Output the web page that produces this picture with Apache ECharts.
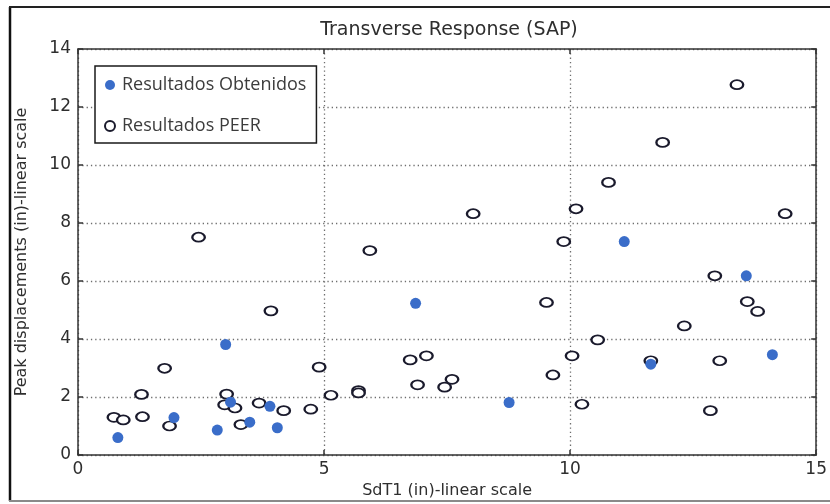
<!DOCTYPE html>
<html>
<head>
<meta charset="utf-8">
<script src="https://cdn.jsdelivr.net/npm/echarts@6/dist/echarts.min.js"></script>
<style>
  html, body { margin: 0; padding: 0; background: #ffffff; }
  #chart { width: 830px; height: 504px; }
</style>
</head>
<body>
<div id="chart"></div>
<script>
// Series names
const obtName = 'Resultados Obtenidos';
const peerName = 'Resultados PEER';

// Resultados Obtenidos: SdT1 (in) and peak displacement (in)
const obtX = [0.81, 1.95, 2.83, 3.00, 3.10, 3.49, 3.90, 4.05, 6.86, 8.76, 11.10, 11.64, 13.58, 14.11];
const obtY = [0.60, 1.29, 0.86, 3.81, 1.82, 1.13, 1.68, 0.94, 5.23, 1.81, 7.36, 3.13, 6.18, 3.46];

// Resultados PEER: SdT1 (in) and peak displacement (in)
const peerX = [0.73, 0.92, 1.29, 1.31, 1.76, 1.86, 2.45, 2.98, 3.02, 3.19, 3.31, 3.68, 3.92, 4.18, 4.73,
               4.90, 5.14, 5.70, 5.70, 5.93, 6.75, 6.90, 7.08, 7.45, 7.60, 8.03, 9.52, 9.65, 9.87, 10.04,
               10.12, 10.24, 10.56, 10.78, 11.64, 11.88, 12.32, 12.85, 12.94, 13.04, 13.39, 13.60, 13.81, 14.37];
const peerY = [1.30, 1.21, 2.09, 1.32, 2.99, 1.00, 7.51, 1.73, 2.10, 1.62, 1.05, 1.79, 4.97, 1.53, 1.58,
               3.03, 2.06, 2.22, 2.14, 7.05, 3.28, 2.42, 3.42, 2.34, 2.61, 8.32, 5.26, 2.76, 7.36, 3.42,
               8.49, 1.75, 3.97, 9.40, 3.25, 10.78, 4.45, 1.53, 6.18, 3.25, 12.77, 5.29, 4.95, 8.32];

// Axis ranges and tick steps
const xRange = [0, 15];
const xStep = 5;
const yRange = [0, 14];
const yStep = 2;

const pair = (xs, ys) => xs.map((x, i) => [x, ys[i]]);

const mFont = 'DejaVu Sans';
const ellipse = 'path://M0,50 A70,50 0 1 1 140,50 A70,50 0 1 1 0,50 Z';

const chart = echarts.init(document.getElementById('chart'), null, { renderer: 'canvas' });

const baseAxis = {
  type: 'value',
  axisLine: { show: true, onZero: false, lineStyle: { color: '#333333', width: 1.5 } },
  axisTick: { show: true, inside: true, length: 5, lineStyle: { color: '#333333', width: 1.5 } },
};

const gridDots = { show: true, lineStyle: { color: '#6e6e6e', width: 1.3, type: [1.3, 3] } };

chart.setOption({
  backgroundColor: '#ffffff',
  animation: false,
  title: {
    text: 'Transverse Response (SAP)',
    left: 449,
    top: 21,
    textAlign: 'center',
    padding: 0,
    textStyle: { fontFamily: mFont, fontSize: 19, fontWeight: 'normal', color: '#2e2e2e' }
  },
  legend: {
    orient: 'vertical',
    left: 95,
    top: 66,
    padding: [10, 10, 8, 9],
    itemGap: 23,
    itemWidth: 10,
    itemHeight: 10,
    backgroundColor: '#ffffff',
    borderColor: '#1a1a1a',
    borderWidth: 1.5,
    borderRadius: 0,
    textStyle: { fontFamily: 'Open Sans', fontSize: 18, color: '#3c3c3c', padding: [0, 0, 0, 2] },
    data: [
      { name: obtName, icon: 'circle' },
      { name: peerName, icon: 'circle' }
    ]
  },
  grid: { left: 78, right: 9, top: 49, bottom: 49, containLabel: false },
  xAxis: [
    Object.assign({}, baseAxis, {
      min: xRange[0], max: xRange[1], interval: xStep,
      position: 'bottom',
      name: 'SdT1 (in)-linear scale',
      nameLocation: 'middle',
      nameGap: 27,
      nameTextStyle: { fontFamily: mFont, fontSize: 16, color: '#2e2e2e' },
      axisLabel: { margin: 6, fontFamily: mFont, fontSize: 17, color: '#2e2e2e' },
      splitLine: gridDots
    }),
    Object.assign({}, baseAxis, {
      min: xRange[0], max: xRange[1], interval: xStep,
      position: 'top',
      axisLabel: { show: false },
      splitLine: { show: false }
    })
  ],
  yAxis: [
    Object.assign({}, baseAxis, {
      min: yRange[0], max: yRange[1], interval: yStep,
      position: 'left',
      name: 'Peak displacements (in)-linear scale',
      nameLocation: 'middle',
      nameRotate: 90,
      nameGap: 48,
      nameTextStyle: { fontFamily: mFont, fontSize: 16, color: '#2e2e2e' },
      axisLabel: { margin: 7, fontFamily: mFont, fontSize: 17, color: '#2e2e2e' },
      splitLine: gridDots
    }),
    Object.assign({}, baseAxis, {
      min: yRange[0], max: yRange[1], interval: yStep,
      position: 'right',
      axisLabel: { show: false },
      splitLine: { show: false }
    })
  ],
  series: [
    {
      name: peerName,
      type: 'scatter',
      xAxisIndex: 0,
      yAxisIndex: 0,
      symbol: ellipse,
      symbolSize: [12.5, 9],
      z: 2,
      itemStyle: { color: '#ffffff', borderColor: '#1a1a2c', borderWidth: 2, opacity: 1 },
      emphasis: { disabled: true },
      data: pair(peerX, peerY)
    },
    {
      name: obtName,
      type: 'scatter',
      xAxisIndex: 0,
      yAxisIndex: 0,
      symbol: 'circle',
      symbolSize: 11,
      z: 3,
      itemStyle: { color: '#3a6dc9', opacity: 1 },
      emphasis: { disabled: true },
      data: pair(obtX, obtY)
    }
  ],
  graphic: [
    { type: 'line', silent: true, shape: { x1: 10, y1: 7, x2: 10, y2: 501 }, style: { stroke: '#111111', lineWidth: 2.5 } },
    { type: 'line', silent: true, shape: { x1: 9, y1: 7, x2: 830, y2: 7 }, style: { stroke: '#222222', lineWidth: 2 } },
    { type: 'line', silent: true, shape: { x1: 9, y1: 501, x2: 830, y2: 501 }, style: { stroke: '#8a8a8a', lineWidth: 2 } }
  ]
});
</script>
</body>
</html>
